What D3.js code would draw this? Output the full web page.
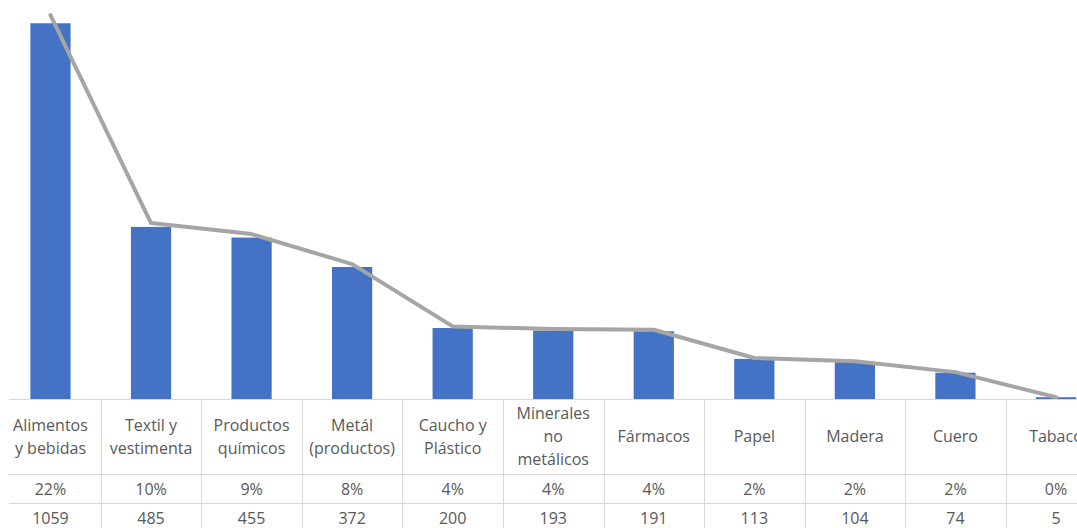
<!DOCTYPE html>
<html lang="es">
<head>
<meta charset="utf-8">
<title>Empresas por sector</title>
<script src="https://cdn.jsdelivr.net/npm/d3@7"></script>
<style>
  html, body { margin: 0; padding: 0; background: #ffffff; }
  svg { display: block; }
  .cell { font-family: "Open Sans", "Noto Sans", sans-serif; font-size: 16px; fill: #595959; }
</style>
</head>
<body>
<svg id="chart" width="1077" height="528"></svg>
<script>
// Sectores (saltos de línea tal como aparecen en la tabla de datos)
const categories = [
  "Alimentos\ny bebidas", "Textil y\nvestimenta", "Productos\nquímicos", "Metál\n(productos)",
  "Caucho y\nPlástico", "Minerales\nno\nmetálicos", "Fármacos", "Papel", "Madera", "Cuero", "Tabaco"
];
// Número de empresas por sector
const counts = [1059, 485, 455, 372, 200, 193, 191, 113, 104, 74, 5];
// Participación de cada sector en el total (%)
const shares = [22.0, 10.08, 9.45, 7.73, 4.16, 4.01, 3.97, 2.35, 2.16, 1.54, 0.10];

const svg = d3.select("#chart");
const W = 1077, H = 528;
const baseY = 399;                 // línea base / borde superior de la tabla
const rowY = [baseY, 474, 503, H]; // bordes de las filas de la tabla
const tableLeft = 9;

const x = d3.scaleBand()
  .domain(categories)
  .range([0.2, 0.2 + 100.55 * categories.length])
  .paddingInner(0.6)
  .paddingOuter(0.3);

const cols = d3.scaleBand()
  .domain(categories)
  .range(x.range())
  .padding(0);

const y = d3.scaleLinear().domain([0, 1200]).range([baseY, baseY - 1200 * 0.3548]);
const yPct = d3.scaleLinear().domain([0, 25]).range([baseY, baseY - 25 * 17.45]);

// Barras
svg.append("g")
  .selectAll("rect")
  .data(counts)
  .join("rect")
  .attr("x", (d, i) => x(categories[i]))
  .attr("width", x.bandwidth())
  .attr("y", d => y(d))
  .attr("height", d => y(0) - y(d))
  .attr("fill", "#4472C4");

// Línea de participación
const line = d3.line()
  .x((d, i) => x(categories[i]) + x.bandwidth() / 2)
  .y(d => yPct(d));

svg.append("path")
  .datum(shares)
  .attr("d", line)
  .attr("fill", "none")
  .attr("stroke", "#A5A5A5")
  .attr("stroke-width", 4)
  .attr("stroke-linejoin", "round")
  .attr("stroke-linecap", "round");

// Tabla de datos
const grid = svg.append("g").attr("stroke", "#D9D9D9").attr("stroke-width", 1);
rowY.slice(0, 3).forEach(yy => {
  grid.append("line")
    .attr("x1", tableLeft).attr("x2", W)
    .attr("y1", yy + 0.5).attr("y2", yy + 0.5);
});
categories.slice(1).forEach(c => {
  const xx = Math.round(cols(c)) + 0.5;
  grid.append("line")
    .attr("x1", xx).attr("x2", xx)
    .attr("y1", baseY).attr("y2", H);
});

const cx = c => cols(c) + cols.bandwidth() / 2;
const lineH = 23;

// Fila de nombres
const nameRow = svg.append("g").attr("class", "cell").attr("text-anchor", "middle");
categories.forEach(c => {
  const parts = c.split("\n");
  const mid = (rowY[0] + rowY[1]) / 2;
  const t = nameRow.append("text")
    .attr("x", cx(c))
    .attr("y", mid - (parts.length - 1) * lineH / 2);
  parts.forEach((p, k) => {
    t.append("tspan")
      .attr("x", cx(c))
      .attr("dy", k === 0 ? "0.35em" : lineH)
      .text(p);
  });
});

// Fila de porcentajes
svg.append("g").attr("class", "cell").attr("text-anchor", "middle")
  .selectAll("text")
  .data(shares)
  .join("text")
  .attr("x", (d, i) => cx(categories[i]))
  .attr("y", (rowY[1] + rowY[2]) / 2 + 1)
  .attr("dy", "0.35em")
  .text(d => Math.round(d) + "%");

// Fila de cantidades
svg.append("g").attr("class", "cell").attr("text-anchor", "middle")
  .selectAll("text")
  .data(counts)
  .join("text")
  .attr("x", (d, i) => cx(categories[i]))
  .attr("y", rowY[2] + 15)
  .attr("dy", "0.35em")
  .text(d => d);
</script>
</body>
</html>
